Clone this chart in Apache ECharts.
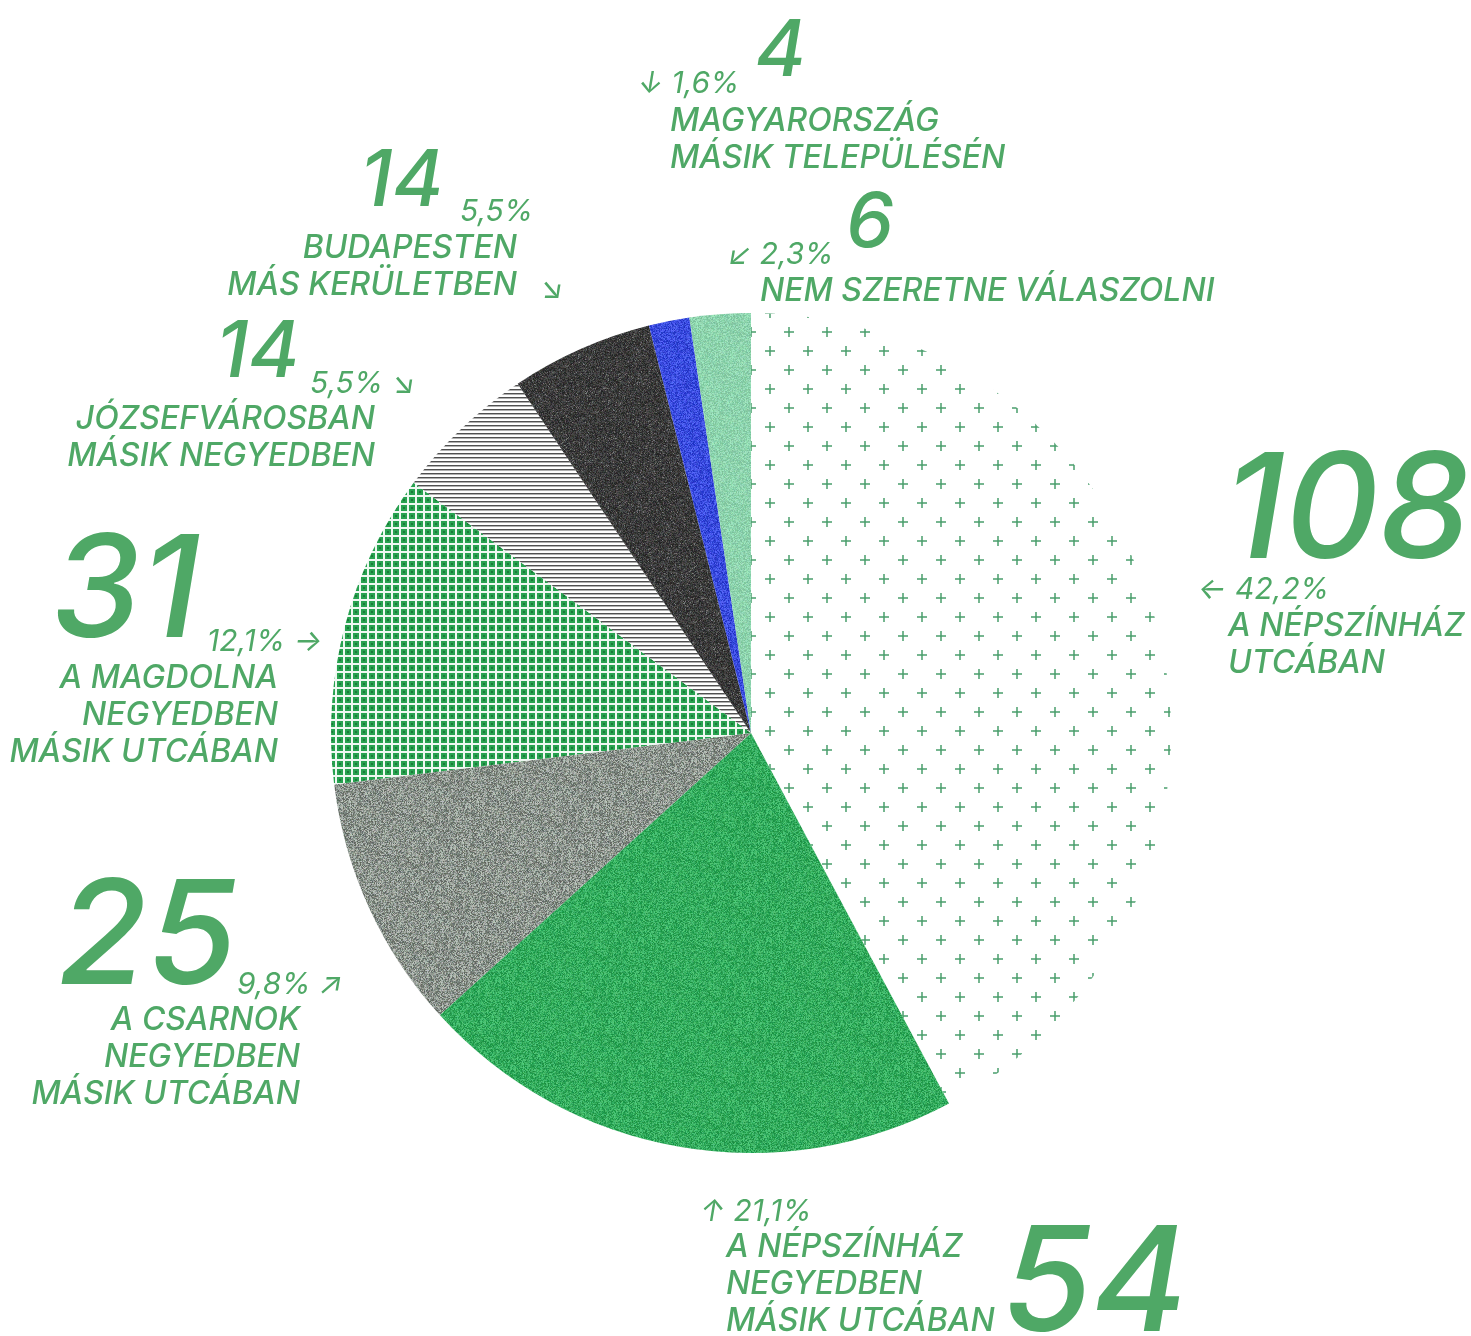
<!DOCTYPE html>
<html>
<head>
<meta charset="utf-8">
<script src="https://cdn.jsdelivr.net/npm/echarts@6/dist/echarts.min.js"></script>
<style>
html,body{margin:0;padding:0;background:#fff;}
#chart{width:1471px;height:1336px;}
</style>
</head>
<body>
<div id="chart"></div>
<script>
// adatok: hol lakik a válaszadó
var names = ['A NÉPSZÍNHÁZ\nUTCÁBAN', 'A NÉPSZÍNHÁZ\nNEGYEDBEN\nMÁSIK UTCÁBAN', 'A CSARNOK\nNEGYEDBEN\nMÁSIK UTCÁBAN',
    'A MAGDOLNA\nNEGYEDBEN\nMÁSIK UTCÁBAN', 'JÓZSEFVÁROSBAN\nMÁSIK NEGYEDBEN', 'BUDAPESTEN\nMÁS KERÜLETBEN',
    'MAGYARORSZÁG\nMÁSIK TELEPÜLÉSÉN', 'NEM SZERETNE VÁLASZOLNI'];
var values = [108, 54, 25, 31, 14, 14, 4, 6];
var fills = ['plus', 'green', 'gray', 'grid', 'lines', 'dark', 'blue', 'mint'];

var TXT = '#4fa866';

// egyszeru LCG, hogy a textura mindig ugyanaz legyen
var seed = 12345;
function rnd() {
    seed = (seed * 1103515245 + 12345) % 2147483648;
    return seed / 2147483648;
}

function noise(base, amp, speck) {
    var c = document.createElement('canvas');
    c.width = 128; c.height = 128;
    var ctx = c.getContext('2d');
    var img = ctx.createImageData(128, 128);
    for (var i = 0; i < 128 * 128; i++) {
        var t = (rnd() - 0.5) * amp;
        if (speck && rnd() < speck) t += amp * 0.9;
        img.data[i * 4] = Math.max(0, Math.min(255, base[0] + t + (rnd() - 0.5) * 12));
        img.data[i * 4 + 1] = Math.max(0, Math.min(255, base[1] + t + (rnd() - 0.5) * 12));
        img.data[i * 4 + 2] = Math.max(0, Math.min(255, base[2] + t + (rnd() - 0.5) * 12));
        img.data[i * 4 + 3] = 255;
    }
    ctx.putImageData(img, 0, 0);
    return c;
}

function plusTile() {
    var c = document.createElement('canvas');
    c.width = 38; c.height = 38;
    var ctx = c.getContext('2d');
    ctx.fillStyle = '#fff';
    ctx.fillRect(0, 0, 38, 38);
    ctx.strokeStyle = '#4a9e6c';
    ctx.lineWidth = 1.5;
    [[10, 9], [29, 28]].forEach(function (p) {
        ctx.beginPath();
        ctx.moveTo(p[0] - 5, p[1]); ctx.lineTo(p[0] + 5, p[1]);
        ctx.moveTo(p[0], p[1] - 5); ctx.lineTo(p[0], p[1] + 5);
        ctx.stroke();
    });
    return c;
}

function gridTile() {
    var c = document.createElement('canvas');
    c.width = 8; c.height = 8;
    var ctx = c.getContext('2d');
    ctx.fillStyle = '#eef8f1';
    ctx.fillRect(0, 0, 8, 8);
    ctx.fillStyle = '#27a24f';
    ctx.fillRect(1, 1, 6, 6);
    ctx.fillStyle = '#1a7a39';
    ctx.fillRect(3, 3, 2, 2);
    return c;
}

function linesTile() {
    var c = document.createElement('canvas');
    c.width = 8; c.height = 4;
    var ctx = c.getContext('2d');
    ctx.fillStyle = '#fff';
    ctx.fillRect(0, 0, 8, 4);
    ctx.fillStyle = '#505050';
    ctx.fillRect(0, 1, 8, 1);
    ctx.fillStyle = '#b0b0b0';
    ctx.fillRect(0, 2, 8, 1);
    return c;
}

var tiles = {
    plus: plusTile(),
    green: noise([52, 172, 94], 60),
    gray: noise([140, 148, 141], 100),
    grid: gridTile(),
    lines: linesTile(),
    dark: noise([58, 58, 58], 50, 0.06),
    blue: noise([58, 76, 222], 60),
    mint: noise([142, 212, 174], 40)
};

var total = 0;
for (var i = 0; i < values.length; i++) total += values[i];

var pieData = [];
for (var i = 0; i < values.length; i++) {
    pieData.push({
        name: names[i].replace(/\n/g, ' '),
        value: values[i],
        itemStyle: {color: {image: tiles[fills[i]], repeat: 'repeat'}}
    });
}

// feliratok elhelyezese: [szam x, szam kozep y, meret, % x, % kozep y, nyil helye, nyil, nev x, nev y, igazitas]
var layout = [
    [1224, 503, 146, 1198, 588, 'before', '←', 1228, 624, 'left'],
    [1002, 1276, 146, 700, 1210, 'before', '↑', 726, 1245, 'left'],
    [58, 930, 145, 237, 983, 'after', '↗', 300, 1018, 'right'],
    [52, 584, 142, 207, 640, 'after', '→', 278, 676, 'right'],
    [216, 348, 78, 310, 382, 'after', '↘', 375, 417, 'right'],
    [360, 177, 78, 460, 210, 'none', '', 517, 246, 'right'],
    [755, 47, 78, 638, 82, 'before', '↓', 670, 119, 'left'],
    [846, 218, 76, 728, 253, 'before', '↙', 760, 289, 'left']
];

var graphics = [];
function addText(x, y, txt, size, weight, align, vAlign, lh) {
    graphics.push({
        type: 'text',
        silent: true,
        style: {
            x: x, y: y + size * 0.075, text: txt,
            font: 'italic ' + weight + ' ' + size + 'px Inter', fill: TXT,
            align: align, verticalAlign: vAlign,
            textAlign: align, textVerticalAlign: vAlign,
            lineHeight: lh
        }
    });
}
var LH = 37;
for (var i = 0; i < values.length; i++) {
    var L = layout[i];
    var pct = (values[i] / total * 100).toFixed(1).replace('.', ',') + '%';
    if (L[5] == 'before') pct = L[6] + ' ' + pct;
    if (L[5] == 'after') pct = pct + ' ' + L[6];
    addText(L[0], L[1], String(values[i]), L[2], 500, 'left', 'middle');
    addText(L[3], L[4], pct, 30, 400, 'left', 'middle');
    addText(L[7], L[8] - LH / 2, names[i], 32, 500, L[9], 'top', LH);
}
// kulon nyil a budapesti felirathoz
addText(540, 287, '↘', 30, 400, 'left', 'middle');

var chart = echarts.init(document.getElementById('chart'), null, {renderer: 'canvas'});
chart.setOption({
    animation: false,
    backgroundColor: '#fff',
    series: [{
        type: 'pie',
        center: [751, 733],
        radius: 420,
        startAngle: 90,
        clockwise: true,
        label: {show: false},
        labelLine: {show: false},
        emphasis: {disabled: true},
        itemStyle: {borderWidth: 0},
        data: pieData
    }],
    graphic: graphics
});
</script>
</body>
</html>
